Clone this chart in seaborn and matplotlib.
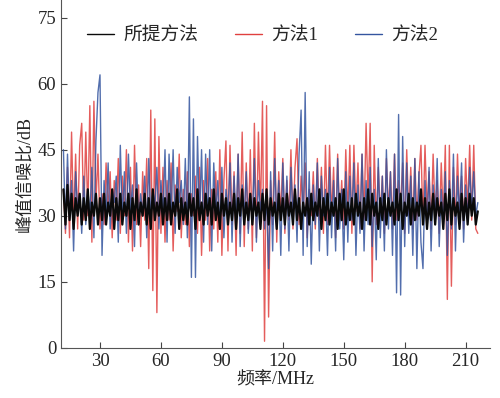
import numpy as np
import pandas as pd
import seaborn as sns
import matplotlib.pyplot as plt

# frequency axis, 1 MHz step
freq = np.arange(12, 217)

# peak SNR (dB)
proposed = [
    36, 28, 37, 29, 35, 27, 34, 30, 35, 28,
    34, 29, 36, 27, 33, 30, 35, 28, 34, 29,
    35, 28, 33, 30, 36, 27, 34, 29, 35, 28,
    33, 30, 35, 27, 34, 29, 36, 28, 33, 30,
    35, 28, 34, 27, 36, 29, 33, 30, 35, 28,
    34, 29, 35, 28, 33, 30, 36, 27, 34, 29,
    33, 28, 35, 30, 34, 27, 36, 29, 33, 28,
    35, 30, 34, 28, 36, 29, 33, 27, 35, 30,
    34, 28, 33, 29, 35, 27, 34, 30, 36, 28,
    33, 29, 35, 28, 34, 30, 33, 27, 35, 29,
    36, 28, 34, 30, 33, 27, 35, 29, 34, 28,
    35, 30, 33, 28, 36, 29, 34, 27, 33, 30,
    34, 28, 35, 29, 33, 30, 36, 27, 34, 29,
    35, 28, 33, 30, 34, 27, 35, 29, 36, 28,
    33, 29, 34, 28, 35, 30, 33, 27, 34, 29,
    36, 28, 35, 30, 33, 27, 34, 29, 35, 28,
    34, 30, 33, 28, 36, 29, 35, 27, 33, 30,
    35, 28, 34, 29, 33, 30, 36, 28, 34, 27,
    33, 29, 35, 28, 34, 30, 33, 27, 35, 29,
    36, 28, 34, 30, 33, 27, 35, 29, 34, 28,
    35, 30, 34, 28, 31,
]

method1 = [
    36, 26, 41, 25, 49, 28, 44, 27, 46, 51,
    29, 49, 30, 55, 24, 56, 33, 44, 27, 35,
    28, 42, 31, 40, 25, 38, 29, 43, 26, 39,
    30, 45, 24, 41, 22, 46, 28, 37, 23, 40,
    29, 43, 18, 54, 13, 52, 8, 48, 26, 41,
    24, 38, 29, 42, 22, 37, 31, 44, 25, 36,
    28, 40, 23, 35, 30, 39, 26, 41, 21, 38,
    29, 43, 22, 36, 27, 40, 24, 45, 21, 38,
    47, 22, 46, 28, 40, 21, 44, 26, 49, 23,
    42, 27, 45, 22, 51, 25, 49, 30, 56, 1.5,
    55, 7, 38, 28, 49, 24, 40, 30, 43, 26,
    38, 29, 45, 27, 41, 47.5, 28, 39, 31, 42,
    25, 36, 30, 40, 27, 43, 29, 41, 26, 46,
    28, 46, 30, 41, 25, 44, 29, 38, 27, 45,
    30, 46, 26, 46, 31, 42, 27, 44, 29, 51,
    33, 51, 15, 46, 28, 41, 30, 39, 26, 43,
    31, 40, 27, 44, 29, 38, 32, 42, 26, 45,
    30, 41, 27, 43, 29, 39, 46, 28, 46, 31,
    40, 27, 44, 30, 38, 26, 42, 29, 46, 11,
    46, 14, 41, 28, 44, 30, 39, 27, 43, 31,
    46, 29, 46, 27, 26,
]

method2 = [
    45, 27, 44, 29, 38, 22, 40, 31, 35, 26,
    39, 28, 36, 30, 41, 25, 47, 58, 62, 21,
    38, 30, 42, 27, 36, 33, 39, 24, 46, 29,
    40, 26, 44, 31, 37, 23, 42, 28, 35, 30,
    39, 25, 43, 29, 36, 32, 41, 27, 38, 30,
    45, 24, 44, 30, 45, 26, 41, 33, 38, 28,
    43, 25, 57, 16, 52, 16, 48, 29, 45, 24,
    44, 28, 45, 22, 42, 30, 38, 27, 41, 25,
    36, 31, 42, 24, 39, 28, 44, 23, 37, 30,
    40, 26, 35, 29, 43, 24, 38, 31, 36, 27,
    34, 18, 40, 22, 43, 29, 38, 21, 42, 27,
    39, 22, 41, 30, 37, 24, 44, 54, 21, 58,
    23, 40, 19, 37, 28, 42, 22, 39, 30, 36,
    21, 41, 25, 38, 22, 43, 27, 36, 20, 40,
    24, 39, 29, 42, 21, 37, 26, 44, 22, 38,
    28, 41, 23, 36, 20, 43, 25, 39, 22, 45,
    27, 40, 21, 44, 12.5, 53, 12, 48, 23, 42,
    26, 39, 21, 43, 18, 40, 24, 18, 38, 27,
    41, 22, 37, 29, 43, 23, 36, 28, 40, 21,
    38, 27, 44, 22, 39, 30, 42, 24, 37, 29,
    41, 31, 40, 30, 33,
]

labels = ["所提方法", "方法1", "方法2"]
x_ticks = [30, 60, 90, 120, 150, 180, 210]
y_ticks = [0, 15, 30, 45, 60, 75]

df = pd.DataFrame({"freq": freq, "所提方法": proposed,
                   "方法1": method1, "方法2": method2})

sns.set_style("ticks")
plt.rcParams["font.family"] = ["Liberation Serif", "Noto Sans CJK SC"]

fig, ax = plt.subplots(figsize=(5, 3.98), dpi=100)
fig.subplots_adjust(left=0.122, right=0.98, bottom=0.126, top=1.0)

sns.lineplot(data=df, x="freq", y="方法1", ax=ax, color="#e0403f",
             linewidth=1.0, alpha=0.85, label="方法1")
sns.lineplot(data=df, x="freq", y="方法2", ax=ax, color="#34559f",
             linewidth=1.0, alpha=0.85, label="方法2")
sns.lineplot(data=df, x="freq", y="所提方法", ax=ax, color="#0a0a0a",
             linewidth=1.6, label="所提方法")

ax.set_xlim(10.8, 222)
ax.set_ylim(0, 79)
ax.set_xticks(x_ticks)
ax.set_yticks(y_ticks)
ax.tick_params(direction="in", length=4, labelsize=13.5, color="#444444")
ax.set_xlabel("频率/MHz", fontsize=13, labelpad=1)
ax.set_ylabel("峰值信噪比/dB", fontsize=13, labelpad=3)
sns.despine(ax=ax)
for s in ["left", "bottom"]:
    ax.spines[s].set_color("#555555")

h, l = ax.get_legend_handles_labels()
order = [l.index(name) for name in labels]
leg = ax.legend([h[i] for i in order], labels, loc="upper center",
                bbox_to_anchor=(0.47, 0.97), ncol=3, frameon=False,
                fontsize=13.5, handlelength=1.4, columnspacing=2.0,
                handletextpad=0.5)
for line in leg.get_lines():
    line.set_linewidth(1.0)
    line.set_alpha(1.0)

plt.savefig("out.png", dpi=100)
